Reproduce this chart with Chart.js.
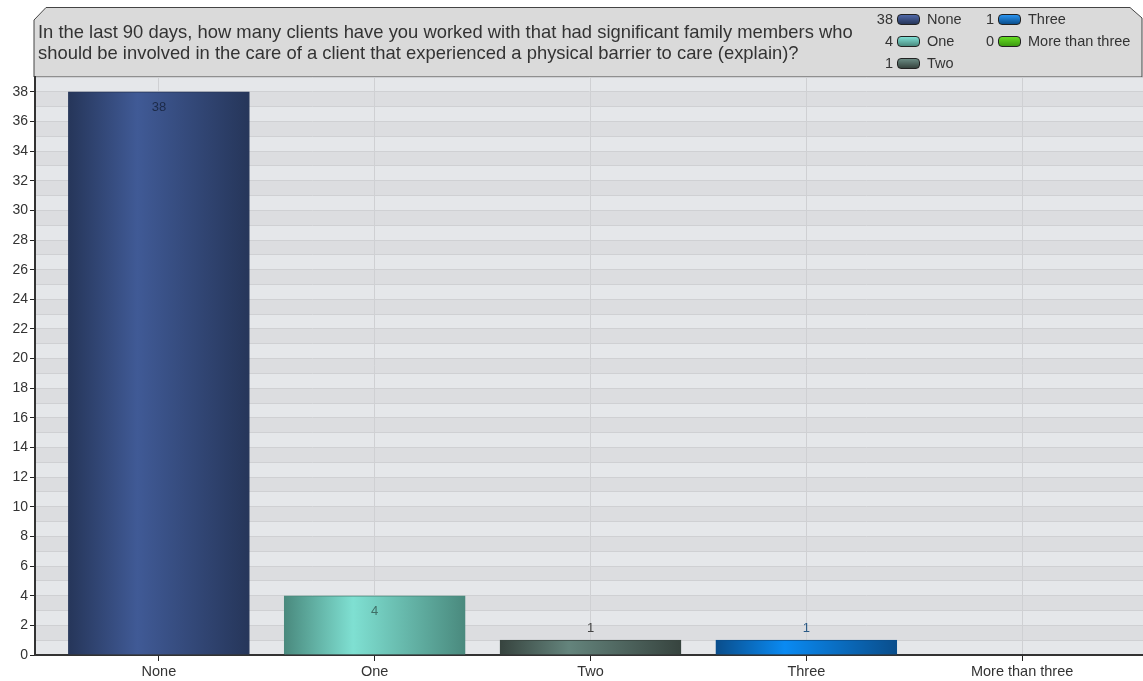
<!DOCTYPE html>
<html lang="en">
<head>
<meta charset="UTF-8">
<title>Family members chart</title>
<script src="https://cdn.jsdelivr.net/npm/chart.js"></script>
<style>
    body { margin: 0; background: #fff; font-family: "Liberation Sans", Arial, sans-serif; }
    #wrap { position: relative; width: 1143px; height: 681px; }
    #title {
        position: absolute; left: 38px; top: 21px;
        font-size: 18.4px; line-height: 21px; color: #333;
    }
    .leg { position: absolute; font-size: 14.5px; color: #333; height: 16px; line-height: 16px; }
    .leg .n { display: inline-block; text-align: right; }
    .leg .sw {
        display: inline-block; width: 21px; height: 9px; border: 1px solid #222;
        border-radius: 4px; vertical-align: -1px; margin: 0 7px 0 4px;
    }
</style>
</head>
<body>
<div id="wrap">
    <canvas id="chart" width="1143" height="681"></canvas>
    <div id="title">In the last 90 days, how many clients have you worked with that had significant family members who<br>should be involved in the care of a client that experienced a physical barrier to care (explain)?</div>
    <div id="legend"></div>
</div>
<script>
const categories = ["None", "One", "Two", "Three", "More than three"];
const counts = [38, 4, 1, 1, 0];
const yTicks = [0, 2, 4, 6, 8, 10, 12, 14, 16, 18, 20, 22, 24, 26, 28, 30, 32, 34, 36, 38];

// edge / centre colours of each bar's gradient
const edgeColors = ["#26365a", "#4a8a7e", "#37443f", "#0a4e8c", "#3c9a10"];
const midColors = ["#405a96", "#7fe0d2", "#64847c", "#0a8af2", "#6fe028"];
const swatchColors = ["#5068a8", "#80e0d6", "#6a8a82", "#2a94f0", "#66dd22"];

// legend (html)
const legendPos = [[858, 11], [858, 33], [858, 55], [963, 11], [963, 33]];
let legendHtml = "";
categories.forEach((c, i) => {
    legendHtml += `<div class="leg" style="left:${legendPos[i][0]}px;top:${legendPos[i][1]}px">` +
        `<span class="n" style="width:${i < 3 ? 35 : 31}px">${counts[i]}</span>` +
        `<span class="sw" style="background:linear-gradient(${swatchColors[i]},${edgeColors[i]})"></span>${c}</div>`;
});
document.getElementById("legend").innerHTML = legendHtml;

function barFill(ctx) {
    const chart = ctx.chart;
    const i = ctx.dataIndex;
    const xs = chart.scales.x;
    if (!xs || i === undefined) return midColors[0];
    const cx = xs.getPixelForValue(i);
    if (!isFinite(cx)) return midColors[i];
    const g = chart.ctx.createLinearGradient(cx - 90, 0, cx + 90, 0);
    g.addColorStop(0, edgeColors[i]);
    g.addColorStop(0.38, midColors[i]);
    g.addColorStop(1, edgeColors[i]);
    return g;
}

const backdrop = {
    id: "backdrop",
    beforeDraw(chart) {
        const c = chart.ctx;
        const a = chart.chartArea;
        const ys = chart.scales.y;
        c.save();
        // header box
        c.beginPath();
        c.moveTo(34, a.top);
        c.lineTo(34, 20);
        c.lineTo(46, 7.5);
        c.lineTo(1130, 7.5);
        c.lineTo(1142, 18);
        c.lineTo(1142, a.top);
        c.closePath();
        c.fillStyle = "#dadada";
        c.fill();
        c.strokeStyle = "#444";
        c.lineWidth = 1;
        c.stroke();
        // bands
        for (let v = 0; v < ys.max; v++) {
            const y0 = ys.getPixelForValue(v);
            const y1 = ys.getPixelForValue(v + 1);
            c.fillStyle = v % 2 === 0 ? "#e5e7ea" : "#dcdde0";
            c.fillRect(a.left, y1, a.right - a.left, y0 - y1);
        }
        c.restore();
    },
    afterDatasetsDraw(chart) {
        const c = chart.ctx;
        const meta = chart.getDatasetMeta(0);
        c.save();
        c.font = "13px 'Liberation Sans', Arial, sans-serif";
        c.textAlign = "center";
        c.textBaseline = "middle";
        meta.data.forEach((bar, i) => {
            if (!counts[i]) return;
            const h = bar.base - bar.y;
            let y = h > 30 ? bar.y + 16 : bar.y - 12;
            c.fillStyle = i === 0 ? "#1c2a48" : (i === 1 ? "#3f6f66" : (i === 3 ? "#2a5a86" : "#444"));
            c.fillText(counts[i], bar.x, y);
        });
        c.restore();
    }
};

new Chart(document.getElementById("chart"), {
    type: "bar",
    data: {
        datasets: [{
            data: counts.map((v, i) => ({ x: i, y: v })),
            backgroundColor: barFill,
            borderColor: edgeColors,
            borderWidth: 1,
            borderSkipped: "bottom",
            barThickness: 181
        }]
    },
    options: {
        responsive: false,
        animation: false,
        events: [],
        layout: { padding: { top: 77, left: 0, right: 0, bottom: 0 } },
        plugins: { legend: { display: false }, tooltip: { enabled: false } },
        scales: {
            x: {
                type: "linear",
                offset: false,
                min: -0.574,
                max: 4.56,
                afterBuildTicks(s) { s.ticks = categories.map((c, i) => ({ value: i })); },
                ticks: {
                    callback: (v) => categories[v],
                    color: "#333",
                    font: { size: 14.5, family: "'Liberation Sans', Arial, sans-serif" },
                    padding: 2
                },
                grid: { offset: false, color: "#cfd0d3", tickColor: "#222", tickLength: 6, drawOnChartArea: true },
                border: { color: "#333", width: 2 },
                afterFit(s) { s.height = 26; }
            },
            y: {
                min: 0,
                max: 39,
                afterBuildTicks(s) {
                    const t = [];
                    for (let v = 0; v <= 39; v++) t.push({ value: v });
                    s.ticks = t;
                },
                ticks: {
                    autoSkip: false,
                    callback: (v) => yTicks.includes(v) ? String(v) : "",
                    color: "#333",
                    font: { size: 14, family: "'Liberation Sans', Arial, sans-serif" },
                    padding: 2
                },
                grid: {
                    color: "#cfd0d3",
                    tickColor: (ctx) => yTicks.includes(ctx.tick.value) ? "#222" : "rgba(0,0,0,0)",
                    tickLength: 5
                },
                border: { color: "#333", width: 2 },
                afterFit(s) { s.width = 35; }
            }
        }
    },
    plugins: [backdrop]
});
</script>
</body>
</html>
